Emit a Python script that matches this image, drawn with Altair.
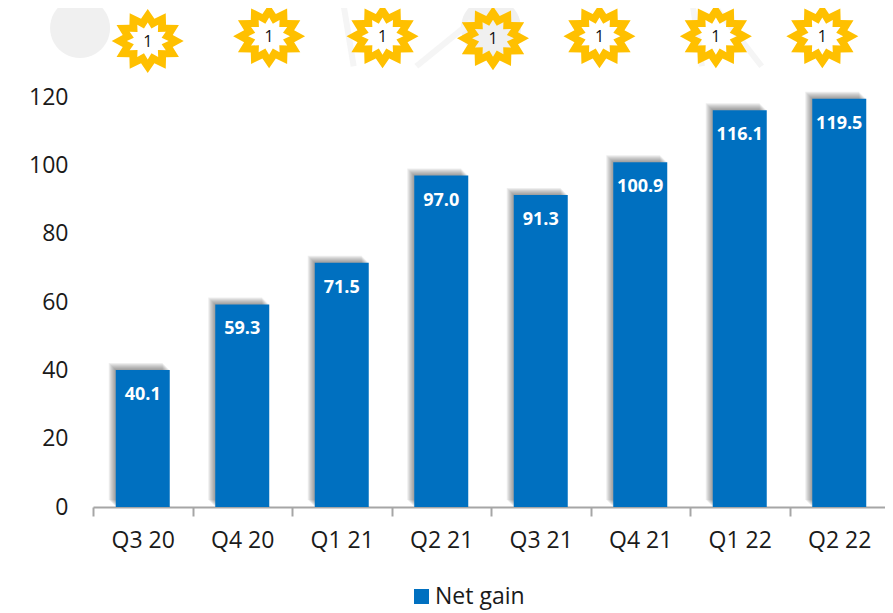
import math
import altair as alt
import pandas as pd

quarters = ["Q3 20", "Q4 20", "Q1 21", "Q2 21", "Q3 21", "Q4 21", "Q1 22", "Q2 22"]
net_gain = [40.1, 59.3, 71.5, 97.0, 91.3, 100.9, 116.1, 119.5]
series_name = "Net gain"

# badge placement in bar-slot units (x) and value units (y)
badge_slot = [0.55, 1.77, 2.91, 4.02, 5.09, 6.26, 7.33]
badge_level = [136.4, 137.8, 137.8, 137.2, 137.8, 137.8, 137.8]
badge_text = ["1", "1", "1", "1", "1", "1", "1"]

# faint backdrop
blob_slot = [-0.13, 4.0]
blob_level = [140.2, 140.2]
wm_id = ["a", "a", "b", "b", "c", "c", "d", "d"]
wm_slot = [2.51, 2.62, 3.25, 3.8, 6.02, 6.12, 6.2, 6.72]
wm_level = [148.4, 129, 129, 142, 148.4, 129, 148.4, 129]

BLUE = "#0070c0"
FONT = "Open Sans"


def star_path(outer, valley, inner_tip, inner_valley, n=12, squash=0.89):
    def ring(r1, r2, reverse=False):
        pts = []
        for i in range(2 * n):
            a = math.pi * i / n - math.pi / 2
            r = r1 if i % 2 == 0 else r2
            pts.append((r * math.cos(a), squash * r * math.sin(a)))
        if reverse:
            pts = pts[::-1]
        return "M" + "L".join(f"{x:.3f},{y:.3f}" for x, y in pts) + "Z"
    return ring(outer, valley) + ring(inner_tip, inner_valley, True)


STAR = star_path(1.0, 0.72, 0.58, 0.40)
ELLIPSE = "M" + "L".join(
    f"{math.cos(t * math.pi / 24):.3f},{math.sin(t * math.pi / 24):.3f}" for t in range(48)
) + "Z"

bars = pd.DataFrame({"quarter": quarters, "value": net_gain, "series": series_name})
badges = pd.DataFrame({"slot": badge_slot, "level": badge_level, "t": badge_text})
blobs = pd.DataFrame({"slot": blob_slot, "level": blob_level})
wm = pd.DataFrame({"id": wm_id, "slot": wm_slot, "level": wm_level})

xs = alt.Scale(domain=[0, 8], nice=False, zero=False)
ys = alt.Scale(domain=[0, 120], nice=False)
xq = alt.X("slot:Q", scale=xs, axis=None)
yq = alt.Y("level:Q", scale=ys, axis=None)

marks_top = alt.layer(
    alt.Chart(blobs).mark_point(shape=ELLIPSE, size=3600, filled=True, color="#f0f0f0", opacity=1, clip=False)
    .encode(x=xq, y=yq),
    alt.Chart(wm).mark_line(color="#f5f5f5", strokeWidth=6, clip=False)
    .encode(x=xq, y=yq, detail="id:N"),
    alt.Chart(badges).mark_point(shape=STAR, size=5184, filled=True, color="#ffc000", opacity=1, clip=False)
    .encode(x=xq, y=yq),
    alt.Chart(badges).mark_text(font=FONT, fontSize=16, color="#111111", clip=False, dy=1)
    .encode(x=xq, y=yq, text="t:N"),
)

xb = alt.X(
    "quarter:N", sort=quarters, title=None,
    scale=alt.Scale(paddingInner=0, paddingOuter=0),
    axis=alt.Axis(
        labelAngle=0, labelFont=FONT, labelFontSize=23, labelColor="#1a1a1a", labelPadding=13,
        domainColor="#a6a6a6", domainWidth=2, tickColor="#a6a6a6", tickWidth=2, tickSize=9,
        tickBand="extent", grid=False,
    ),
)
yb = alt.Y(
    "value:Q", title=None, scale=ys,
    axis=alt.Axis(
        values=[0, 20, 40, 60, 80, 100, 120], labelFont=FONT, labelFontSize=23, labelColor="#1a1a1a",
        labelPadding=25, domain=False, ticks=False, grid=False,
    ),
)
xb_plain = alt.X("quarter:N", sort=quarters, title=None, scale=alt.Scale(paddingInner=0, paddingOuter=0), axis=None)
yb_plain = alt.Y("value:Q", title=None, scale=ys, axis=None)

shadows = [
    alt.Chart(bars).mark_bar(size=54, color="#444444", opacity=0.09, xOffset=-d, yOffset=-d)
    .encode(x=xb_plain, y=yb_plain)
    for d in [7, 6, 5, 4, 3, 2, 1]
]

main = alt.Chart(bars).mark_bar(size=54).encode(
    x=xb, y=yb,
    color=alt.Color(
        "series:N", title=None,
        scale=alt.Scale(domain=[series_name], range=[BLUE]),
        legend=alt.Legend(
            orient="none", legendX=317, legendY=488, padding=0, symbolType="square", symbolSize=225,
            symbolStrokeWidth=0, labelFont=FONT, labelFontSize=23, labelColor="#1a1a1a", labelOffset=2,
        ),
    ),
)
labels = alt.Chart(bars).mark_text(
    font=FONT, fontSize=18, fontWeight="bold", color="white", baseline="middle", yOffset=25
).encode(x=xb_plain, y=yb_plain, text=alt.Text("value:Q", format=".1f"))

bar_layers = alt.layer(*shadows, main, labels).resolve_axis(x="independent", y="independent")

chart = (
    alt.layer(marks_top, bar_layers)
    .resolve_scale(x="independent")
    .resolve_axis(x="independent", y="independent")
    .properties(
        width=796, height=410, autosize="none", background="white",
        padding={"left": 85, "top": 89, "right": -4, "bottom": 106},
    )
    .configure_view(stroke=None)
)

chart.save("out.html", embed_options={"renderer": "svg", "actions": False})
